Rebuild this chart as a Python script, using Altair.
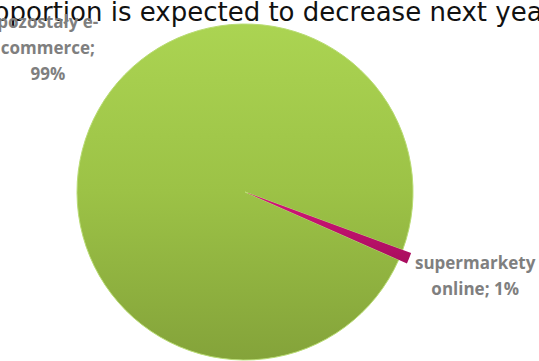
import math
import altair as alt
import pandas as pd

title_text = "proportion is expected to decrease next year"
categories = ["supermarkety online", "pozostały e-commerce"]
values = [1, 99]
label_lines = [["supermarkety", "online; 1%"], ["pozostały e-", "commerce;", "99%"]]

df = pd.DataFrame({
    "category": categories,
    "value": values,
    "order": [0, 1],
    "label": ["\n".join(l) for l in label_lines],
})

CX, CY = 245, 192
a0 = math.radians(110.2)
theta_scale = alt.Scale(domain=[0, 100], range=[a0, a0 + 2 * math.pi])

base = (
    alt.Chart(df)
    .transform_window(cum="sum(value)", sort=[alt.SortField("order")], frame=[None, 0])
    .transform_calculate(start="datum.cum - datum.value", mid="datum.cum - datum.value / 2")
)

green_grad = alt.Gradient(
    gradient="linear",
    stops=[alt.GradientStop(color="#abd452", offset=0),
           alt.GradientStop(color="#9cc246", offset=0.5),
           alt.GradientStop(color="#84a33a", offset=1)],
    x1=0, x2=0, y1=0, y2=1,
)
pink_grad = alt.Gradient(
    gradient="linear",
    stops=[alt.GradientStop(color="#d4167a", offset=0),
           alt.GradientStop(color="#a80d5e", offset=1)],
    x1=0, x2=0, y1=0, y2=1,
)

enc = dict(
    theta=alt.Theta("start:Q", scale=theta_scale),
    theta2="cum:Q",
    x=alt.value(CX),
    y=alt.value(CY),
)

green = base.transform_filter(alt.datum.category == categories[1]).mark_arc(
    outerRadius=168, color=green_grad, stroke="#b9dc74", strokeWidth=1
).encode(**enc)

pink = base.transform_filter(alt.datum.category == categories[0]).mark_arc(
    outerRadius=177, innerRadius=3, color=pink_grad
).encode(**enc)

title = alt.Chart(pd.DataFrame({"t": [title_text]})).mark_text(
    font="DejaVu Sans", fontSize=26, color="#111111", align="left", baseline="alphabetic"
).encode(x=alt.value(-33), y=alt.value(21), text="t:N")

def label_layer(cat, dx, dy):
    return base.transform_filter(alt.datum.category == cat).mark_text(
        font="Open Sans", fontWeight="bold", fontSize=17, color="#7f7f7f",
        align="center", baseline="middle", lineBreak="\n", lineHeight=26,
        radius=245, dx=dx, dy=dy,
    ).encode(
        theta=alt.Theta("mid:Q", scale=theta_scale),
        x=alt.value(CX), y=alt.value(CY),
        text="label:N",
    )

chart = alt.layer(
    green, pink, title,
    label_layer(categories[1], 30, -77),
    label_layer(categories[0], 3, -20),
).properties(
    width=539, height=361, padding=0,
    autosize=alt.AutoSizeParams(type="none"),
).configure_view(stroke=None)

chart.save("out.html", embed_options={"renderer": "svg", "actions": False})
